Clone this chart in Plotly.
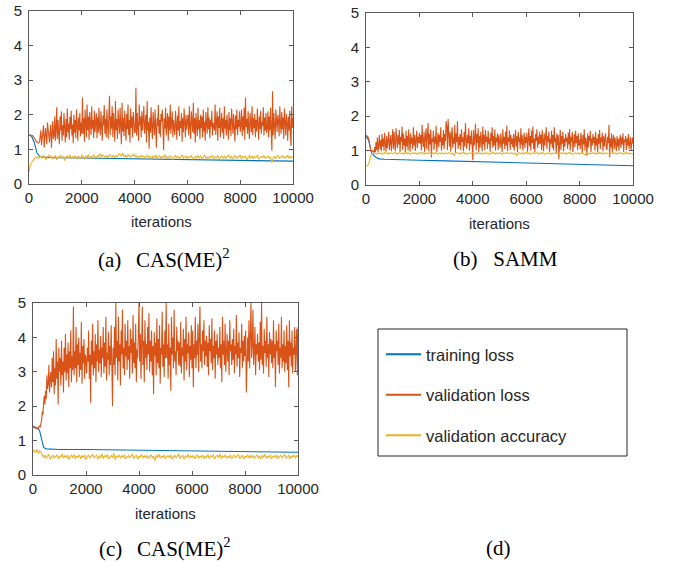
import numpy as np
import plotly.graph_objects as go

W, H = 677, 562

# ---------------- data ----------------
series_names = ["training loss", "validation loss", "validation accuracy"]
colors = ["#0072BD", "#D95319", "#EDB120"]
panel_captions = ["(a)\u00a0\u00a0\u2009CAS(ME)<sup>2</sup>", "(b)\u00a0\u00a0\u00a0SAMM",
                  "(c)\u00a0\u00a0\u2009CAS(ME)<sup>2</sup>", "(d)"]
x_ticks = [0, 2000, 4000, 6000, 8000, 10000]
y_ticks = [0, 1, 2, 3, 4, 5]

# panel (a)
train_iter_a = [0, 100, 200, 300, 400, 500, 700, 1000, 2000, 3000, 4000, 5000, 6000, 7000, 8000, 9000, 10000]
train_loss_a = [1.42, 1.38, 1.20, 0.90, 0.80, 0.78, 0.77, 0.76, 0.75, 0.74, 0.72, 0.71, 0.70, 0.69, 0.68, 0.67, 0.66]
val_loss_a = [
    1.42, 1.42, 1.41, 1.41, 1.40, 1.40, 1.39, 1.37, 1.33, 1.30, 1.26, 1.22, 1.20, 1.19, 1.18, 1.21, 1.22,
    1.40, 1.55, 1.12, 1.30, 1.48, 1.70, 1.05, 1.25, 1.62, 1.38, 1.15, 1.78, 1.50, 1.35, 1.20, 1.50, 1.72, 1.05, 1.45, 1.82, 1.30, 1.40, 1.95, 1.25,
    1.60, 2.22, 1.30, 1.85, 1.45, 1.15, 1.95, 1.55, 2.10, 1.25, 1.70, 1.40, 2.05, 1.62, 1.20, 1.88, 1.35, 2.18, 1.50, 1.75,
    1.28, 1.95, 1.58, 2.12, 1.40, 1.72, 1.18, 2.00, 1.48, 1.85, 1.32, 2.15, 1.65, 1.25, 1.92, 1.55, 2.05, 1.38, 1.78, 1.45,
    2.50, 1.45, 1.90, 1.22, 2.15, 1.68, 1.35, 2.30, 1.55, 1.95, 1.28, 2.08, 1.75, 1.42, 2.25, 1.60, 1.85, 1.32, 2.12, 1.50,
    1.78, 2.05, 1.32, 1.92, 1.48, 2.20, 1.65, 1.40, 2.10, 1.58, 1.25, 1.98, 1.70, 2.28, 1.45, 1.88, 1.35, 2.15, 1.62, 1.30,
    2.00, 2.55, 1.42, 1.95, 1.60, 2.25, 1.35, 2.05, 1.70, 1.22, 2.40, 1.55, 1.88, 1.30, 2.15, 1.65, 1.45, 2.20, 1.75, 1.15,
    2.35, 1.52, 1.90, 1.38, 2.12, 1.68, 1.25, 2.02, 1.58, 2.30, 1.42, 1.85, 1.20, 2.18, 1.62, 1.95, 1.35, 2.08, 1.72, 1.48,
    1.50, 2.78, 1.40, 2.05, 1.62, 1.25, 2.30, 1.70, 1.95, 1.35, 2.10, 1.55, 1.85, 2.25, 1.45, 1.70, 2.00, 1.20, 2.40, 1.55,
    1.80, 1.02, 1.92, 1.48, 2.22, 1.60, 1.30, 2.08, 1.75, 1.40, 2.15, 1.58, 1.05, 1.90, 1.68, 2.28, 1.45, 1.85, 1.35, 2.02,
    1.80, 2.15, 1.30, 0.98, 1.90, 1.60, 2.20, 1.40, 1.75, 2.05, 1.25, 1.95, 1.55, 2.30, 1.45, 1.70, 2.10, 1.35, 1.85, 1.60,
    1.42, 2.12, 1.68, 1.28, 1.98, 1.55, 2.25, 1.38, 1.82, 1.62, 2.05, 1.22, 1.90, 1.50, 2.18, 1.72, 1.35, 2.00, 1.58, 1.80,
    2.00, 1.40, 2.25, 1.65, 1.30, 2.10, 1.75, 1.50, 2.35, 1.45, 1.90, 1.20, 2.05, 1.68, 1.38, 2.20, 1.58, 1.85, 1.30, 2.00,
    1.62, 1.95, 1.35, 2.15, 1.52, 1.80, 1.25, 2.08, 1.70, 1.45, 2.22, 1.58, 1.92, 1.32, 1.85, 1.65, 2.12, 1.40, 1.78, 1.55,
    1.55, 2.30, 1.42, 1.80, 2.10, 1.25, 1.95, 1.62, 2.20, 1.35, 1.75, 2.05, 1.48, 1.90, 1.30, 2.25, 1.60, 1.85, 1.40, 2.00,
    1.68, 1.28, 2.08, 1.55, 1.90, 1.38, 2.18, 1.62, 1.45, 2.02, 1.75, 1.22, 1.98, 1.58, 2.15, 1.42, 1.85, 1.65, 2.10, 1.50,
    1.70, 2.15, 1.38, 1.95, 1.55, 2.20, 1.28, 2.50, 1.65, 1.88, 1.45, 2.10, 1.60, 1.30, 2.05, 1.75, 1.50, 2.25, 1.42, 1.90,
    1.62, 2.02, 1.35, 1.85, 1.52, 2.18, 1.70, 1.28, 1.95, 1.58, 2.12, 1.45, 1.80, 1.68, 2.22, 1.40, 1.92, 1.55, 2.05, 1.48,
    1.60, 2.10, 1.35, 1.95, 1.55, 2.20, 1.48, 0.96, 2.68, 1.40, 2.05, 1.65, 1.30, 2.15, 1.75, 1.50, 2.00, 1.85, 1.38, 2.25,
    1.72, 1.45, 2.08, 1.58, 1.92, 1.30, 2.18, 1.65, 1.40, 2.02, 1.78, 1.25, 1.95, 1.55, 2.12, 1.48, 1.10, 2.25, 1.62, 1.90,
]
val_acc_a = [
    0.35, 0.55, 0.62, 0.70, 0.74, 0.76, 0.78, 0.75, 0.76,
    0.80, 0.74, 0.82, 0.77, 0.71, 0.79, 0.84, 0.76, 0.80, 0.73, 0.78, 0.82, 0.70, 0.79, 0.76, 0.83, 0.75, 0.80, 0.68, 0.78,
    0.81, 0.76, 0.84, 0.74, 0.79, 0.77, 0.82, 0.72, 0.80, 0.78, 0.75, 0.83, 0.79, 0.71, 0.81, 0.77, 0.85, 0.74, 0.80, 0.76,
    0.85, 0.79, 0.76, 0.83, 0.80, 0.88, 0.78, 0.84, 0.81, 0.77, 0.83, 0.75, 0.86, 0.80, 0.78, 0.84, 0.76, 0.82, 0.79, 0.87,
    0.86, 0.80, 0.90, 0.79, 0.83, 0.76, 0.85, 0.81, 0.78, 0.84, 0.80, 0.87, 0.77, 0.82, 0.79, 0.75, 0.83, 0.78, 0.81, 0.74,
    0.79, 0.83, 0.76, 0.80, 0.72, 0.81, 0.77, 0.84, 0.75, 0.79, 0.82, 0.74, 0.80, 0.77, 0.85, 0.73, 0.79, 0.76, 0.81, 0.78,
    0.70, 0.78, 0.82, 0.76, 0.80, 0.73, 0.79, 0.84, 0.75, 0.78, 0.81, 0.74, 0.79, 0.77, 0.83, 0.72, 0.78, 0.80, 0.75, 0.82,
    0.76, 0.81, 0.73, 0.79, 0.84, 0.75, 0.78, 0.71, 0.80, 0.77, 0.82, 0.74, 0.79, 0.76, 0.83, 0.72, 0.78, 0.81, 0.75, 0.80,
    0.74, 0.79, 0.83, 0.76, 0.80, 0.72, 0.78, 0.82, 0.75, 0.79, 0.77, 0.84, 0.73, 0.80, 0.76, 0.81, 0.70, 0.78, 0.82, 0.75,
    0.81, 0.74, 0.79, 0.77, 0.83, 0.72, 0.78, 0.80, 0.76, 0.82, 0.75, 0.79, 0.81, 0.74, 0.78, 0.62, 0.75, 0.79, 0.73, 0.80,
    0.81, 0.74, 0.78, 0.82, 0.75, 0.79, 0.77, 0.83, 0.74, 0.80, 0.76, 0.79,
]

# panel (b)
train_iter_b = [0, 100, 200, 300, 400, 500, 700, 1000, 2000, 3000, 4000, 5000, 6000, 7000, 8000, 9000, 10000]
train_loss_b = [1.42, 1.30, 0.95, 0.85, 0.79, 0.76, 0.75, 0.74, 0.72, 0.70, 0.68, 0.66, 0.64, 0.62, 0.60, 0.58, 0.56]
val_loss_b = [
    1.45, 1.44, 1.43, 1.40, 1.35, 1.22, 1.10, 1.02, 0.98, 0.97, 1.00, 0.96, 0.95,
    1.10, 0.95, 1.25, 1.02, 1.38, 0.96, 1.15, 1.45, 1.05, 1.30, 0.98, 1.48, 1.12, 1.35,
    1.00, 1.52, 1.20, 0.97, 1.42, 1.08, 1.30, 1.55, 1.02, 1.25, 1.45, 0.98, 1.35, 1.62,
    1.05, 1.55, 1.20, 0.98, 1.65, 1.30, 1.08, 1.45, 1.18, 1.60, 0.96, 1.40, 1.25, 1.70, 1.02, 1.50, 1.15, 1.35, 0.92, 1.58,
    1.12, 1.42, 1.00, 1.62, 1.28, 0.97, 1.50, 1.20, 1.38, 1.05, 1.68, 1.15, 1.45, 0.99, 1.32, 1.58, 1.08, 1.40, 1.22, 1.52,
    1.20, 1.45, 1.00, 1.75, 1.28, 1.10, 1.55, 0.95, 1.40, 1.65, 1.05, 1.30, 1.80, 0.98, 1.48, 1.18, 1.62, 0.80, 1.35, 1.25,
    1.58, 1.02, 1.40, 1.20, 1.72, 0.97, 1.35, 1.52, 1.10, 1.45, 1.25, 1.68, 1.00, 1.38, 1.15, 1.60, 1.05, 1.48, 1.28, 1.85,
    1.70, 1.02, 1.92, 1.30, 1.12, 1.55, 0.97, 1.45, 1.68, 1.08, 1.38, 1.20, 1.75, 0.94, 1.50, 1.25, 1.85, 1.05, 1.40, 1.15,
    1.48, 1.02, 1.62, 1.25, 1.38, 0.98, 1.55, 1.12, 1.80, 1.30, 1.05, 1.45, 1.22, 1.65, 1.00, 1.42, 1.18, 1.58, 1.08, 0.72,
    1.60, 1.15, 1.35, 1.78, 1.00, 1.48, 1.22, 1.65, 0.95, 1.42, 1.10, 1.55, 1.30, 0.98, 1.70, 1.18, 1.45, 1.02, 1.60, 1.25,
    1.40, 1.05, 1.58, 1.20, 1.35, 0.97, 1.52, 1.28, 1.68, 1.08, 1.42, 1.15, 1.62, 1.00, 1.38, 1.25, 1.50, 1.02, 1.45, 1.18,
    1.08, 1.50, 1.32, 0.96, 1.62, 1.20, 1.40, 1.05, 1.55, 1.15, 1.72, 0.98, 1.38, 1.25, 1.58, 1.02, 1.45, 1.18, 1.35, 1.10,
    1.48, 1.00, 1.30, 1.60, 1.12, 1.42, 0.95, 1.55, 1.25, 1.38, 1.05, 1.65, 1.18, 1.45, 1.00, 1.35, 1.52, 1.08, 1.40, 1.22,
    1.52, 0.97, 1.30, 1.65, 1.12, 1.42, 1.00, 1.58, 1.22, 1.70, 1.05, 1.35, 0.95, 1.48, 1.28, 1.62, 1.08, 1.40, 1.18, 1.55,
    1.20, 1.45, 1.02, 1.60, 1.30, 0.98, 1.50, 1.15, 1.38, 1.68, 1.05, 1.42, 1.25, 1.55, 0.97, 1.35, 1.20, 1.58, 1.08, 1.45,
    1.00, 1.68, 1.25, 1.38, 0.90, 1.50, 1.15, 1.45, 0.75, 1.30, 1.60, 1.02, 1.42, 1.20, 1.55, 0.98, 1.35, 1.12, 1.48, 1.25,
    1.38, 1.05, 1.52, 1.18, 1.62, 1.00, 1.40, 1.25, 1.55, 0.96, 1.35, 1.48, 1.10, 1.58, 1.22, 1.42, 1.02, 1.50, 1.15, 1.32,
    1.05, 1.52, 1.30, 0.92, 1.45, 1.18, 1.62, 1.00, 1.38, 1.25, 0.85, 1.50, 1.10, 1.42, 1.28, 1.58, 0.96, 1.35, 1.15, 1.48,
    1.22, 1.40, 1.00, 1.55, 1.15, 1.35, 0.95, 1.48, 1.20, 1.60, 1.05, 1.38, 1.25, 1.52, 0.98, 1.42, 1.12, 1.30, 1.50, 1.08,
    1.02, 1.40, 1.22, 1.75, 0.80, 1.35, 1.10, 1.50, 0.95, 1.30, 1.45, 1.05, 1.38, 1.20, 0.98, 1.42, 1.12, 1.35, 1.00, 1.30,
    1.45, 1.08, 1.38, 1.18, 1.50, 0.96, 1.32, 1.25, 1.42, 1.02, 1.35, 1.15, 1.48, 1.05, 1.30, 1.40, 1.00, 1.28, 1.38, 1.20,
]
val_acc_b = [
    0.55, 0.56, 0.62, 0.80, 0.90, 0.92, 0.93,
    0.92, 0.90, 0.94, 0.91, 0.93, 0.89, 0.92, 0.95, 0.91, 0.93, 0.90, 0.94, 0.92, 0.91, 0.93, 0.95, 0.90, 0.92, 0.94, 0.91,
    0.93, 0.90, 0.92, 0.95, 0.91, 0.93, 0.89, 0.92, 0.94, 0.91, 0.93, 0.90, 0.92, 0.94, 0.91, 0.95, 0.92, 0.90, 0.93, 0.91,
    0.94, 0.92, 0.90, 0.93, 0.91, 0.95, 0.92, 0.89, 0.93, 0.91, 0.94, 0.90, 0.92, 0.93, 0.91, 0.94, 0.92, 0.90, 0.93, 0.85,
    0.92, 0.94, 0.91, 0.93, 0.90, 0.92, 0.95, 0.91, 0.93, 0.89, 0.92, 0.94, 0.91, 0.93, 0.90, 0.92, 0.94, 0.91, 0.93, 0.92,
    0.90, 0.93, 0.91, 0.94, 0.92, 0.89, 0.93, 0.91, 0.95, 0.92, 0.90, 0.93, 0.91, 0.94, 0.92, 0.90, 0.93, 0.91, 0.94, 0.92,
    0.93, 0.91, 0.94, 0.92, 0.90, 0.93, 0.86, 0.92, 0.94, 0.91, 0.93, 0.90, 0.92, 0.95, 0.91, 0.93, 0.89, 0.92, 0.94, 0.91,
    0.92, 0.94, 0.90, 0.93, 0.91, 0.95, 0.92, 0.89, 0.93, 0.91, 0.94, 0.92, 0.90, 0.93, 0.91, 0.94, 0.92, 0.90, 0.93, 0.91,
    0.94, 0.91, 0.93, 0.90, 0.92, 0.95, 0.91, 0.93, 0.89, 0.92, 0.94, 0.91, 0.93, 0.90, 0.92, 0.94, 0.91, 0.87, 0.93, 0.92,
    0.90, 0.93, 0.91, 0.94, 0.92, 0.90, 0.93, 0.91, 0.95, 0.92, 0.90, 0.93, 0.91, 0.94, 0.92, 0.89, 0.93, 0.91, 0.94, 0.92,
    0.93, 0.90, 0.92, 0.94, 0.91, 0.93, 0.90, 0.92, 0.95, 0.91, 0.93, 0.90, 0.92, 0.91,
]

# panel (c)
train_iter_c = [0, 100, 200, 250, 300, 350, 400, 500, 700, 1000, 2000, 3000, 4000, 5000, 6000, 7000, 8000, 9000, 10000]
train_loss_c = [1.40, 1.38, 1.35, 1.28, 1.10, 0.90, 0.80, 0.76, 0.75, 0.74, 0.74, 0.73, 0.72, 0.71, 0.70, 0.69, 0.68, 0.67, 0.66]
val_loss_c = [
    1.40, 1.42, 1.38, 1.36, 1.40, 1.35, 1.38, 1.33, 1.37, 1.40, 1.42, 1.38, 1.45,
    1.60, 1.85, 1.75, 2.10, 2.30, 2.05, 2.45, 2.20, 2.90, 2.50, 2.65, 3.20, 2.40, 2.80,
    3.00, 2.55, 3.40, 2.70, 3.60, 2.35, 3.10, 2.60, 3.95, 2.80, 3.30, 2.05, 3.70, 3.00,
    3.40, 2.60, 3.90, 2.90, 3.30, 2.40, 3.70, 3.00, 4.10, 2.75, 3.50, 2.95, 3.85, 2.55, 3.60, 3.10, 4.20, 2.70, 3.45, 3.05,
    4.90, 2.90, 3.60, 3.10, 4.30, 2.70, 3.80, 3.20, 4.00, 2.85, 3.55, 3.05, 4.45, 2.65, 3.75, 3.25, 3.95, 2.80, 3.50, 3.35,
    2.95, 3.70, 3.30, 4.20, 2.80, 3.50, 2.10, 3.90, 3.20, 4.40, 2.90, 3.60, 3.10, 4.10, 2.70, 3.80, 3.30, 4.50, 3.00, 3.65,
    3.25, 4.05, 2.85, 3.70, 3.40, 4.30, 2.95, 3.85, 3.15, 4.60, 2.75, 3.55, 3.35, 4.15, 2.90, 3.75, 3.20, 4.35, 3.05, 2.00,
    3.70, 3.20, 4.30, 2.90, 5.00, 3.40, 3.90, 2.75, 4.60, 3.30, 3.80, 2.60, 4.20, 3.50, 4.80, 3.10, 3.70, 2.90, 4.40, 3.45,
    3.90, 3.05, 4.50, 3.35, 3.75, 2.80, 4.25, 3.55, 3.95, 2.95, 4.65, 3.25, 3.85, 3.10, 4.40, 2.70, 3.65, 3.40, 4.10, 5.00,
    3.30, 4.10, 2.80, 3.60, 4.90, 3.20, 3.90, 2.70, 4.50, 3.40, 3.80, 3.05, 4.30, 3.50, 4.70, 3.00, 3.90, 3.30, 4.20, 2.90,
    3.75, 2.35, 4.15, 3.45, 3.85, 2.90, 4.55, 3.25, 3.95, 3.10, 4.35, 2.65, 3.70, 3.50, 4.75, 3.15, 3.80, 2.85, 4.20, 3.40,
    5.00, 3.40, 3.80, 2.80, 4.40, 3.20, 3.70, 2.45, 4.60, 3.50, 4.00, 3.10, 4.80, 3.30, 3.60, 2.90, 4.30, 3.60, 3.90, 3.20,
    3.85, 3.15, 4.45, 2.95, 3.70, 3.45, 4.25, 2.75, 3.95, 3.30, 4.60, 3.05, 3.80, 3.55, 4.15, 2.85, 3.75, 3.35, 4.35, 3.10,
    4.20, 2.55, 3.80, 3.40, 4.60, 3.10, 3.90, 3.50, 4.40, 3.00, 3.70, 4.90, 3.30, 3.80, 3.10, 4.20, 3.60, 4.50, 3.20, 3.90,
    3.45, 4.05, 3.15, 3.85, 2.90, 4.35, 3.60, 3.95, 3.25, 4.55, 3.05, 3.75, 3.40, 4.20, 2.80, 3.90, 3.50, 4.10, 3.20, 3.70,
    3.40, 4.30, 3.10, 3.80, 2.70, 4.60, 3.50, 3.90, 3.20, 4.40, 3.00, 3.70, 4.10, 3.30, 3.90, 2.90, 4.50, 3.60, 3.80, 3.20,
    3.95, 3.35, 4.25, 2.95, 3.75, 3.50, 4.65, 3.15, 3.85, 3.40, 4.15, 2.85, 3.70, 3.55, 4.40, 3.10, 3.90, 3.30, 4.05, 3.45,
    4.20, 2.40, 3.70, 4.00, 3.30, 4.50, 3.10, 3.90, 5.00, 3.40, 3.80, 4.80, 3.20, 3.60, 4.30, 2.90, 3.80, 3.50, 4.10, 3.30,
    3.85, 3.05, 4.45, 3.35, 5.00, 3.20, 3.75, 2.95, 4.25, 3.55, 3.90, 3.15, 4.60, 3.40, 3.80, 2.85, 4.15, 3.50, 3.95, 3.25,
    3.90, 3.10, 4.50, 3.40, 3.80, 2.55, 4.20, 3.60, 3.90, 3.20, 4.40, 2.95, 3.70, 3.40, 4.60, 3.10, 3.80, 3.30, 4.20, 3.00,
    3.75, 3.25, 4.35, 3.05, 3.90, 2.55, 4.50, 3.45, 3.85, 3.15, 4.20, 2.95, 3.70, 3.50, 4.30, 3.00, 3.80, 4.25, 2.90, 4.30,
]
val_acc_c = [
    0.68, 0.72, 0.65, 0.75, 0.62, 0.70, 0.66,
    0.60, 0.52, 0.58, 0.48, 0.55, 0.60, 0.46, 0.54, 0.57, 0.50, 0.53, 0.59, 0.47, 0.55, 0.52, 0.61, 0.49, 0.56, 0.51, 0.58,
    0.45, 0.54, 0.57, 0.50, 0.60, 0.48, 0.55, 0.52, 0.58, 0.47, 0.56, 0.51, 0.59, 0.44, 0.54, 0.57, 0.49, 0.55, 0.60, 0.50,
    0.53, 0.58, 0.46, 0.55, 0.51, 0.62, 0.48, 0.56, 0.52, 0.59, 0.47, 0.54, 0.57, 0.50, 0.63, 0.45, 0.55, 0.52, 0.58, 0.49,
    0.56, 0.51, 0.59, 0.47, 0.54, 0.57, 0.50, 0.55, 0.61, 0.48, 0.53, 0.58, 0.46, 0.55, 0.52, 0.60, 0.49, 0.56, 0.51, 0.57,
    0.48, 0.54, 0.59, 0.50, 0.55, 0.42, 0.57, 0.52, 0.60, 0.49, 0.55, 0.51, 0.58, 0.47, 0.54, 0.56, 0.50, 0.58, 0.46, 0.53,
    0.57, 0.50, 0.55, 0.61, 0.48, 0.53, 0.58, 0.46, 0.55, 0.52, 0.60, 0.49, 0.56, 0.51, 0.57, 0.47, 0.54, 0.59, 0.50, 0.55,
    0.52, 0.58, 0.47, 0.55, 0.51, 0.60, 0.48, 0.56, 0.53, 0.59, 0.46, 0.54, 0.57, 0.50, 0.61, 0.48, 0.55, 0.52, 0.58, 0.49,
    0.55, 0.50, 0.58, 0.47, 0.54, 0.57, 0.51, 0.56, 0.60, 0.48, 0.53, 0.58, 0.46, 0.55, 0.52, 0.59, 0.49, 0.56, 0.51, 0.57,
    0.48, 0.54, 0.59, 0.50, 0.55, 0.46, 0.57, 0.52, 0.60, 0.49, 0.55, 0.51, 0.58, 0.47, 0.54, 0.56, 0.50, 0.58, 0.47, 0.54,
    0.57, 0.50, 0.55, 0.60, 0.48, 0.53, 0.58, 0.47, 0.55, 0.52, 0.59, 0.49, 0.56, 0.54,
]

panels = [
    (train_iter_a, train_loss_a, val_loss_a, val_acc_a),
    (train_iter_b, train_loss_b, val_loss_b, val_acc_b),
    (train_iter_c, train_loss_c, val_loss_c, val_acc_c),
]

# ---------------- layout geometry (pixels) ----------------
boxes = [  # left, right, top, bottom
    (29, 293, 11, 184),
    (366, 633, 13, 185),
    (33, 298, 303, 475),
]


def px_x(v):
    return v / W


def px_y(v):
    return 1 - v / H


fig = go.Figure()
axis_font = dict(family="Liberation Sans, Arial, sans-serif", size=15, color="#262626")

for i, (ti, tl, vl, va) in enumerate(panels):
    n = i + 1
    xa = "x" if n == 1 else f"x{n}"
    ya = "y" if n == 1 else f"y{n}"
    vl_x = np.linspace(0, 10000, len(vl))
    va_x = np.linspace(0, 10000, len(va))
    fig.add_trace(go.Scatter(x=ti, y=tl, mode="lines", line=dict(color=colors[0], width=1.1),
                             name=series_names[0], legendgroup="g0", showlegend=False,
                             xaxis=xa, yaxis=ya))
    fig.add_trace(go.Scatter(x=vl_x, y=vl, mode="lines", line=dict(color=colors[1], width=1.1),
                             name=series_names[1], legendgroup="g1", showlegend=False,
                             xaxis=xa, yaxis=ya))
    fig.add_trace(go.Scatter(x=va_x, y=va, mode="lines", line=dict(color=colors[2], width=1.1),
                             name=series_names[2], legendgroup="g2", showlegend=False,
                             xaxis=xa, yaxis=ya))

    l, r, t, b = boxes[i]
    xkey = "xaxis" if n == 1 else f"xaxis{n}"
    ykey = "yaxis" if n == 1 else f"yaxis{n}"
    common = dict(showgrid=False, zeroline=False, showline=True, linecolor="#5a5a5a", linewidth=1,
                  mirror="ticks", ticks="inside", ticklen=4, tickcolor="#5a5a5a",
                  tickfont=axis_font, automargin=False, fixedrange=True)
    fig.layout[xkey] = dict(common, domain=[px_x(l), px_x(r)], range=[0, 10000],
                            tickvals=x_ticks, ticktext=[str(v) for v in x_ticks],
                            anchor=ya)
    fig.layout[ykey] = dict(common, domain=[px_y(b), px_y(t)], range=[0, 5],
                            tickvals=y_ticks, ticktext=[str(v) for v in y_ticks],
                            anchor=xa, ticklabelstandoff=3)
    fig.add_annotation(x=px_x((l + r) / 2), y=px_y(b + 38), xref="paper", yref="paper",
                       text="iterations", showarrow=False, font=axis_font,
                       xanchor="center", yanchor="middle")

# legend entries (panel d)
for k in range(3):
    fig.add_trace(go.Scatter(x=[None], y=[None], mode="lines",
                             line=dict(color=colors[k], width=2),
                             name=series_names[k], legendgroup=f"g{k}", showlegend=True,
                             xaxis="x3", yaxis="y3"))

# captions
caption_font = dict(family="Liberation Serif, Times New Roman, serif", size=21, color="#000000")
caption_pos = [(164, 258), (505, 259), (165, 547), (498, 548)]
for txt, (cx, cy) in zip(panel_captions, caption_pos):
    fig.add_annotation(x=px_x(cx), y=px_y(cy), xref="paper", yref="paper", text=txt,
                       showarrow=False, font=caption_font, xanchor="center", yanchor="middle")

# legend box
fig.add_shape(type="rect", xref="paper", yref="paper",
              x0=px_x(378), x1=px_x(627), y0=px_y(456), y1=px_y(329),
              line=dict(color="#262626", width=1), fillcolor="rgba(0,0,0,0)")

fig.update_layout(
    width=W, height=H, margin=dict(l=0, r=0, t=0, b=0),
    paper_bgcolor="white", plot_bgcolor="white",
    legend=dict(x=px_x(381), y=px_y(337), xanchor="left", yanchor="top",
                font=dict(family="Liberation Sans, Arial, sans-serif", size=16.5, color="#262626"),
                bgcolor="rgba(0,0,0,0)", borderwidth=0, tracegroupgap=16,
                traceorder="grouped", itemwidth=35),
)

fig.write_html("out.html", config={"displayModeBar": False},
               post_script="document.body.style.margin='0';document.body.style.padding='0';"
                           "document.body.style.overflow='hidden';")
